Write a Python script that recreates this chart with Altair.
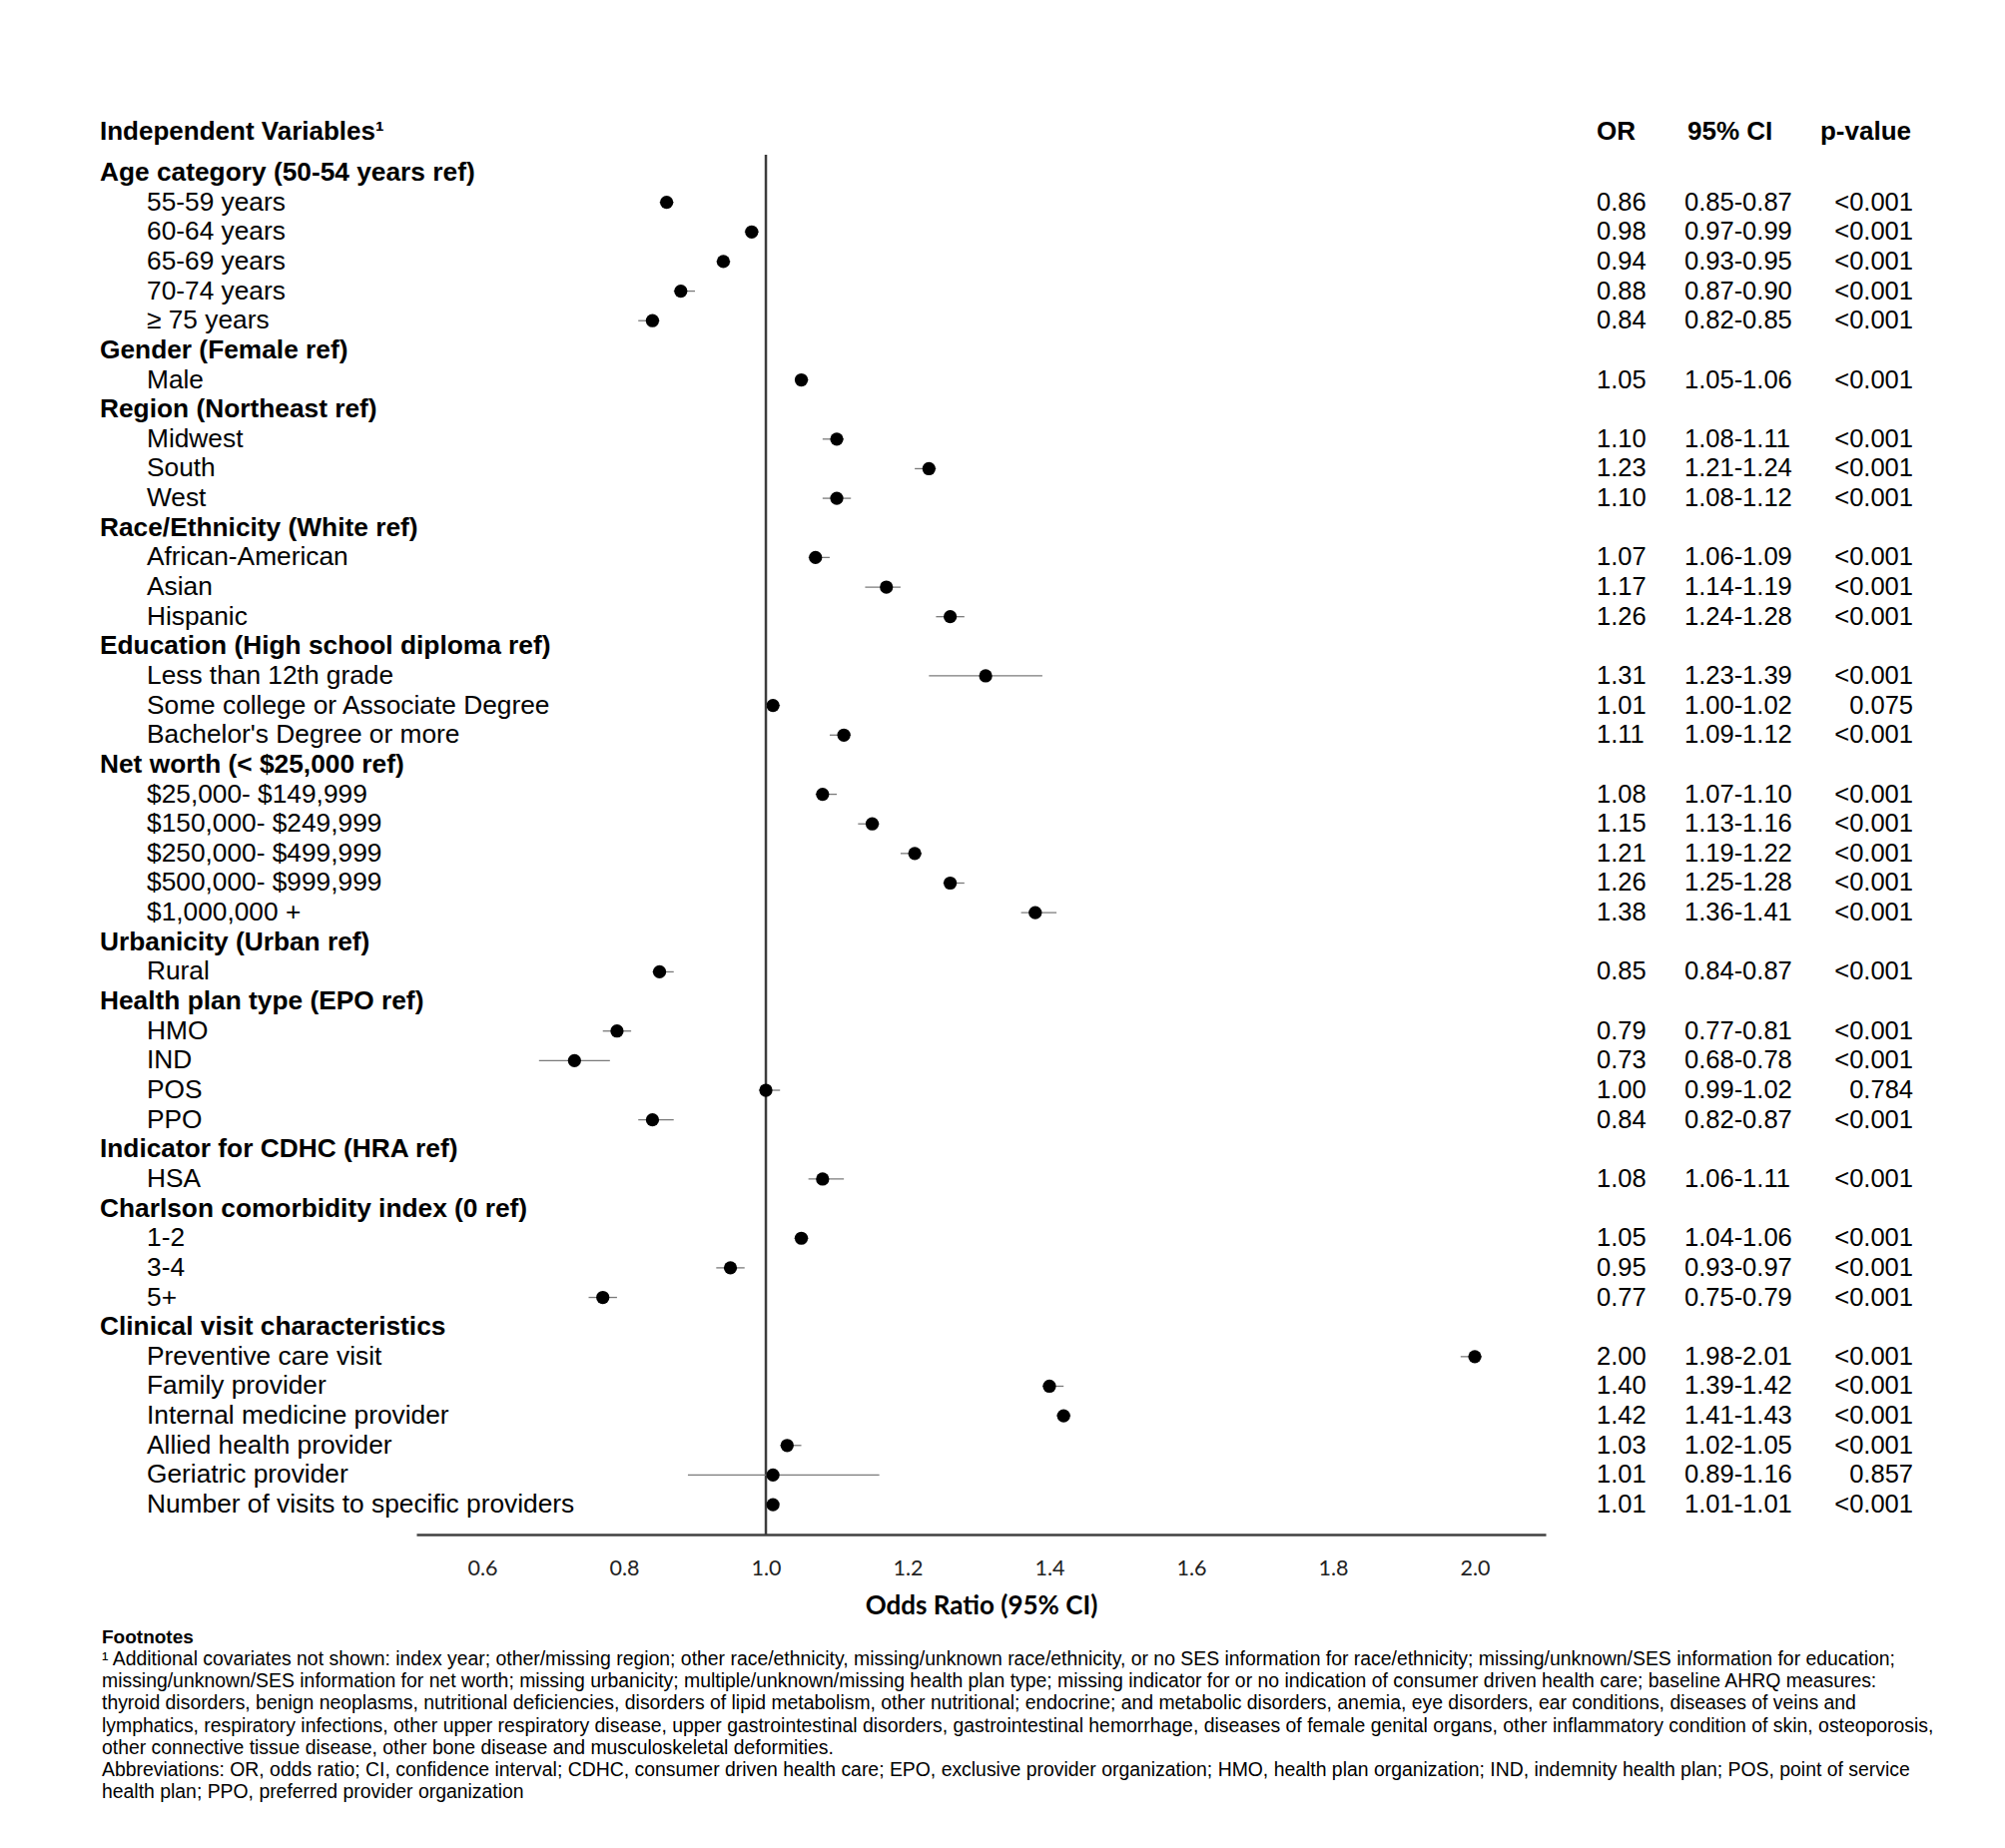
import altair as alt
import pandas as pd

labels = [
    "Age category (50-54 years ref)", "55-59 years", "60-64 years", "65-69 years", "70-74 years", "≥ 75 years",
    "Gender (Female ref)", "Male",
    "Region (Northeast ref)", "Midwest", "South", "West",
    "Race/Ethnicity (White ref)", "African-American", "Asian", "Hispanic",
    "Education (High school diploma ref)", "Less than 12th grade", "Some college or Associate Degree", "Bachelor's Degree or more",
    "Net worth (< $25,000 ref)", "$25,000- $149,999", "$150,000- $249,999", "$250,000- $499,999", "$500,000- $999,999", "$1,000,000 +",
    "Urbanicity (Urban ref)", "Rural",
    "Health plan type (EPO ref)", "HMO", "IND", "POS", "PPO",
    "Indicator for CDHC (HRA ref)", "HSA",
    "Charlson comorbidity index (0 ref)", "1-2", "3-4", "5+",
    "Clinical visit characteristics", "Preventive care visit", "Family provider", "Internal medicine provider",
    "Allied health provider", "Geriatric provider", "Number of visits to specific providers",
]
is_header = [
    True, False, False, False, False, False,
    True, False,
    True, False, False, False,
    True, False, False, False,
    True, False, False, False,
    True, False, False, False, False, False,
    True, False,
    True, False, False, False, False,
    True, False,
    True, False, False, False,
    True, False, False, False, False, False, False,
]
N = None
or_vals = [
    N, 0.86, 0.98, 0.94, 0.88, 0.84,
    N, 1.05,
    N, 1.10, 1.23, 1.10,
    N, 1.07, 1.17, 1.26,
    N, 1.31, 1.01, 1.11,
    N, 1.08, 1.15, 1.21, 1.26, 1.38,
    N, 0.85,
    N, 0.79, 0.73, 1.00, 0.84,
    N, 1.08,
    N, 1.05, 0.95, 0.77,
    N, 2.00, 1.40, 1.42, 1.03, 1.01, 1.01,
]
ci_lo = [
    N, 0.85, 0.97, 0.93, 0.87, 0.82,
    N, 1.05,
    N, 1.08, 1.21, 1.08,
    N, 1.06, 1.14, 1.24,
    N, 1.23, 1.00, 1.09,
    N, 1.07, 1.13, 1.19, 1.25, 1.36,
    N, 0.84,
    N, 0.77, 0.68, 0.99, 0.82,
    N, 1.06,
    N, 1.04, 0.93, 0.75,
    N, 1.98, 1.39, 1.41, 1.02, 0.89, 1.01,
]
ci_hi = [
    N, 0.87, 0.99, 0.95, 0.90, 0.85,
    N, 1.06,
    N, 1.11, 1.24, 1.12,
    N, 1.09, 1.19, 1.28,
    N, 1.39, 1.02, 1.12,
    N, 1.10, 1.16, 1.22, 1.28, 1.41,
    N, 0.87,
    N, 0.81, 0.78, 1.02, 0.87,
    N, 1.11,
    N, 1.06, 0.97, 0.79,
    N, 2.01, 1.42, 1.43, 1.05, 1.16, 1.01,
]
p_vals = [
    "", "<0.001", "<0.001", "<0.001", "<0.001", "<0.001",
    "", "<0.001",
    "", "<0.001", "<0.001", "<0.001",
    "", "<0.001", "<0.001", "<0.001",
    "", "<0.001", "0.075", "<0.001",
    "", "<0.001", "<0.001", "<0.001", "<0.001", "<0.001",
    "", "<0.001",
    "", "<0.001", "<0.001", "0.784", "<0.001",
    "", "<0.001",
    "", "<0.001", "<0.001", "<0.001",
    "", "<0.001", "<0.001", "<0.001", "<0.001", "0.857", "<0.001",
]
x_ticks = [0.6, 0.8, 1.0, 1.2, 1.4, 1.6, 1.8, 2.0]
col_headers = ["OR", "95% CI", "p-value"]
left_header = "Independent Variables¹"
footnote_title = "Footnotes"
footnote_lines = [
    "¹ Additional covariates not shown: index year; other/missing region; other race/ethnicity, missing/unknown race/ethnicity, or no SES information for race/ethnicity; missing/unknown/SES information for education;",
    "missing/unknown/SES information for net worth; missing urbanicity; multiple/unknown/missing health plan type; missing indicator for or no indication of consumer driven health care; baseline AHRQ measures:",
    "thyroid disorders, benign neoplasms, nutritional deficiencies, disorders of lipid metabolism, other nutritional; endocrine; and metabolic disorders, anemia, eye disorders, ear conditions, diseases of veins and",
    "lymphatics, respiratory infections, other upper respiratory disease, upper gastrointestinal disorders, gastrointestinal hemorrhage, diseases of female genital organs, other inflammatory condition of skin, osteoporosis,",
    "other connective tissue disease, other bone disease and musculoskeletal deformities.",
    "Abbreviations: OR, odds ratio; CI, confidence interval; CDHC, consumer driven health care; EPO, exclusive provider organization; HMO, health plan organization; IND, indemnity health plan; POS, point of service",
    "health plan; PPO, preferred provider organization",
]

df = pd.DataFrame({
    "row": list(range(1, len(labels) + 1)),
    "label": labels,
    "header": is_header,
    "or": or_vals,
    "lo": ci_lo,
    "hi": ci_hi,
    "p": p_vals,
})

W, H = 1131, 1382
FONT = "Liberation Sans"
LBL = 26.3
HDR = 26.3
VAL = 25.5

x_scale = alt.Scale(domain=[0.507, 2.1], nice=False, zero=False)
y_scale = alt.Scale(domain=[0.393, 47.01], reverse=True, nice=False, zero=False)
y_enc = alt.Y("row:Q", scale=y_scale, axis=None)

base = alt.Chart(df)

ref = alt.Chart(pd.DataFrame({"ref": [1.0]})).mark_rule(color="#3c3c3c", strokeWidth=2.5).encode(
    x=alt.X("ref:Q", scale=x_scale)
)

data_rows = base.transform_filter("isValid(datum.or)")

ci = data_rows.mark_rule(color="#7a7a7a", strokeWidth=1.3).encode(
    x=alt.X("lo:Q", scale=x_scale,
            axis=alt.Axis(values=x_ticks, format=".1f", ticks=False, grid=False,
                          domainColor="#404040", domainWidth=2.5,
                          labelFont="Lato", labelFontSize=21.5, labelColor="#222",
                          labelPadding=23, title="Odds Ratio (95% CI)",
                          titleFont="Lato", titleFontSize=26, titleFontWeight="bold",
                          titleColor="#000", titlePadding=14)),
    x2="hi:Q",
    y=y_enc,
)

pts = data_rows.mark_circle(color="black", opacity=1, size=175).encode(
    x=alt.X("or:Q", scale=x_scale),
    y=y_enc,
)

hdr_labels = base.transform_filter("datum.header").mark_text(
    align="left", baseline="middle", font=FONT, fontSize=HDR, fontWeight="bold", color="black"
).encode(x=alt.value(100 - 417), y=y_enc, text="label:N")

item_labels = base.transform_filter("!datum.header").mark_text(
    align="left", baseline="middle", font=FONT, fontSize=LBL, color="black"
).encode(x=alt.value(147 - 417), y=y_enc, text="label:N")

or_text = data_rows.mark_text(
    align="left", baseline="middle", font=FONT, fontSize=VAL, color="black"
).encode(x=alt.value(1599 - 417), y=y_enc, text=alt.Text("or:Q", format=".2f"))

ci_text = data_rows.transform_calculate(
    ci_str="format(datum.lo, '.2f') + '-' + format(datum.hi, '.2f')"
).mark_text(
    align="left", baseline="middle", font=FONT, fontSize=VAL, color="black"
).encode(x=alt.value(1687 - 417), y=y_enc, text="ci_str:N")

p_text = data_rows.mark_text(
    align="right", baseline="middle", font=FONT, fontSize=VAL, color="black"
).encode(x=alt.value(1916 - 417), y=y_enc, text="p:N")

HY = 132 - 155
head_left = alt.Chart(pd.DataFrame({"h": [left_header]})).mark_text(
    align="left", baseline="middle", font=FONT, fontSize=26, fontWeight="bold", color="black"
).encode(x=alt.value(100 - 417), y=alt.value(HY), text="h:N")
head_or = alt.Chart(pd.DataFrame({"h": [col_headers[0]]})).mark_text(
    align="left", baseline="middle", font=FONT, fontSize=26, fontWeight="bold", color="black"
).encode(x=alt.value(1599 - 417), y=alt.value(HY), text="h:N")
head_ci = alt.Chart(pd.DataFrame({"h": [col_headers[1]]})).mark_text(
    align="left", baseline="middle", font=FONT, fontSize=26, fontWeight="bold", color="black"
).encode(x=alt.value(1690 - 417), y=alt.value(HY), text="h:N")
head_p = alt.Chart(pd.DataFrame({"h": [col_headers[2]]})).mark_text(
    align="right", baseline="middle", font=FONT, fontSize=26, fontWeight="bold", color="black"
).encode(x=alt.value(1914 - 417), y=alt.value(HY), text="h:N")

fn_title = alt.Chart(pd.DataFrame({"t": [footnote_title]})).mark_text(
    align="left", baseline="middle", font=FONT, fontSize=19, fontWeight="bold", color="black"
).encode(x=alt.value(102 - 417), y=alt.value(1640 - 155), text="t:N")

fn_body = alt.Chart(pd.DataFrame({"t": [0]})).mark_text(
    align="left", baseline="middle", font=FONT, fontSize=19.4, color="black",
    lineHeight=22.2, text=footnote_lines
).encode(x=alt.value(102 - 417), y=alt.value(1662 - 155))

chart = alt.layer(
    ref, ci, pts, hdr_labels, item_labels, or_text, ci_text, p_text,
    head_left, head_or, head_ci, head_p, fn_title, fn_body
).properties(
    width=W, height=H,
    autosize=alt.AutoSizeParams(type="none"),
    padding={"left": 409, "top": 147, "right": 452, "bottom": 306},
    background="white",
).configure_view(strokeWidth=0)

chart.save("out.html", embed_options={"renderer": "svg", "actions": False})
